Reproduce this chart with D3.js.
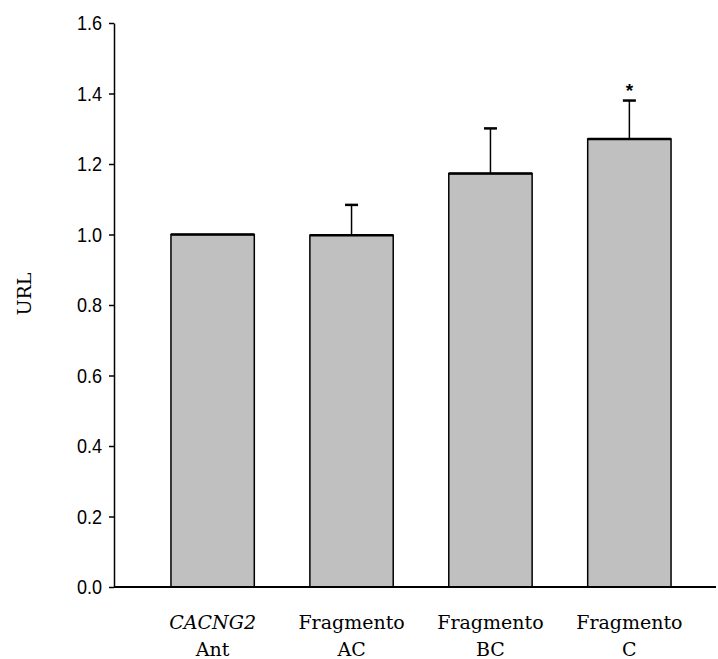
<!DOCTYPE html>
<meta charset="utf-8">
<style>
body { margin: 0; background: #fff; }
.tick text { font: 21px "Liberation Sans", Arial, sans-serif; fill: #000; }
.cat { font: 19px "DejaVu Serif", serif; fill: #000; }
</style>
<svg width="718" height="659"></svg>
<script src="https://d3js.org/d3.v7.min.js"></script>
<script>

// values
var categories = ["CACNG2 Ant", "Fragmento AC", "Fragmento BC", "Fragmento C"];
var line1 = ["CACNG2", "Fragmento", "Fragmento", "Fragmento"];
var line2 = ["Ant", "AC", "BC", "C"];
var means = [1.0, 0.998, 1.173, 1.271];
var errors = [0, 0.086, 0.128, 0.109];
var marks = ["", "", "", "*"];
var yTicks = [0, 0.2, 0.4, 0.6, 0.8, 1.0, 1.2, 1.4, 1.6];

var svg = d3.select("svg");
var padLeft = 114, padBottom = 587, padTop = 23;

var x = d3.scaleBand()
    .domain(categories)
    .range([padLeft, 728])
    .paddingInner(0.4)
    .paddingOuter(0.41);

var y = d3.scaleLinear()
    .domain([0, 1.6])
    .range([padBottom, padTop]);

// y axis
var yAxis = svg.append("g")
    .attr("transform", "translate(" + padLeft + ",0)")
    .call(d3.axisLeft(y).tickValues(yTicks).tickFormat(d3.format(".1f")).tickSize(5).tickSizeOuter(0));
yAxis.select(".domain").attr("stroke-width", 1.5);
yAxis.selectAll(".tick line").attr("stroke-width", 1.5);
// condensed look of the original tick labels
yAxis.selectAll(".tick text")
    .attr("x", 0)
    .attr("transform", "translate(-12,0) scale(0.86,1)");

// bars
svg.selectAll("rect.bar")
    .data(means)
    .enter().append("rect")
    .attr("class", "bar")
    .attr("x", function(d, i) { return x(categories[i]); })
    .attr("y", function(d) { return y(d); })
    .attr("width", x.bandwidth())
    .attr("height", function(d) { return padBottom - y(d); })
    .attr("fill", "#c0c0c0")
    .attr("stroke", "#000")
    .attr("stroke-width", 1.5);

// thicker top edges
svg.selectAll("line.topedge")
    .data(means)
    .enter().append("line")
    .attr("x1", function(d, i) { return x(categories[i]); })
    .attr("x2", function(d, i) { return x(categories[i]) + x.bandwidth(); })
    .attr("y1", function(d) { return y(d); })
    .attr("y2", function(d) { return y(d); })
    .attr("stroke", "#000")
    .attr("stroke-width", 2.5);

// error bars (upper only)
var cx = function(i) { return x(categories[i]) + x.bandwidth() / 2; };
means.forEach(function(m, i) {
  if (!errors[i]) return;
  svg.append("line")
      .attr("x1", cx(i)).attr("x2", cx(i))
      .attr("y1", y(m)).attr("y2", y(m + errors[i]))
      .attr("stroke", "#000").attr("stroke-width", 1.5);
  svg.append("line")
      .attr("x1", cx(i) - 6.5).attr("x2", cx(i) + 6.5)
      .attr("y1", y(m + errors[i])).attr("y2", y(m + errors[i]))
      .attr("stroke", "#000").attr("stroke-width", 2.5);
  if (marks[i]) {
    svg.append("text")
        .attr("x", cx(i))
        .attr("y", y(m + errors[i]) - 4)
        .attr("text-anchor", "middle")
        .style("font", "bold 19px 'Liberation Sans', sans-serif")
        .text(marks[i]);
  }
});

// x axis line
svg.append("line")
    .attr("x1", padLeft).attr("x2", 716)
    .attr("y1", padBottom).attr("y2", padBottom)
    .attr("stroke", "#000").attr("stroke-width", 2);

// category labels
categories.forEach(function(c, i) {
  var t = svg.append("text")
      .attr("class", "cat")
      .attr("text-anchor", "middle")
      .attr("x", cx(i));
  t.append("tspan").attr("x", cx(i)).attr("y", 629)
      .style("font-style", i === 0 ? "italic" : "normal")
      .text(line1[i]);
  t.append("tspan").attr("x", cx(i)).attr("y", 656).text(line2[i]);
});

// y label
svg.append("text")
    .attr("class", "cat")
    .attr("transform", "translate(31,294) rotate(-90)")
    .attr("text-anchor", "middle")
    .text("URL");

</script>
